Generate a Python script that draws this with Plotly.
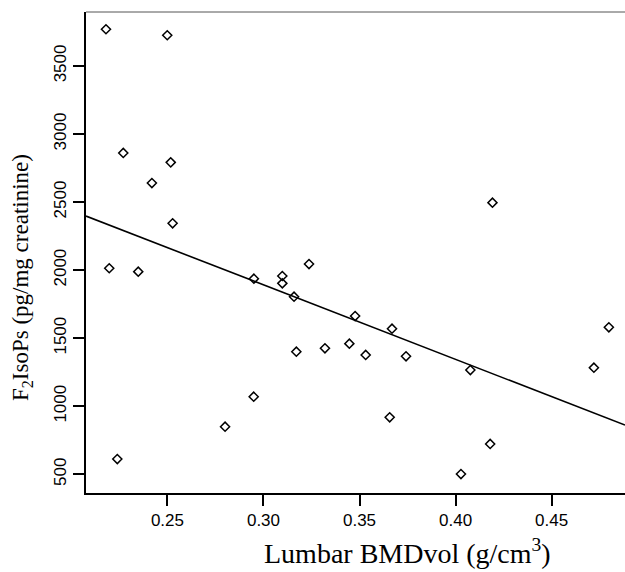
import plotly.graph_objects as go

# Data
bmd = [0.218, 0.2499, 0.227, 0.2517, 0.2419, 0.2239, 0.2197, 0.2348, 0.2527,
       0.295, 0.3098, 0.3098, 0.3237, 0.3159, 0.3477, 0.3669, 0.3171, 0.332,
       0.3447, 0.3532, 0.3742, 0.2949, 0.28, 0.3657, 0.4192, 0.4077, 0.472,
       0.4798, 0.418, 0.4028]
isops = [3770, 3726, 2861, 2792, 2640, 612, 2014, 1989, 2344,
         1937, 1957, 1903, 2045, 1805, 1663, 1570, 1401, 1426,
         1460, 1377, 1367, 1070, 850, 919, 2496, 1266, 1283,
         1580, 723, 502]

fit_intercept = 3534.0
fit_slope = -5474.0

x_range = [0.2076, 0.4882]
y_range = [362.6, 3896.8]

x_ticks = [0.25, 0.30, 0.35, 0.40, 0.45]
x_ticktext = ["0.25", "0.30", "0.35", "0.40", "0.45"]
y_ticks = [500, 1000, 1500, 2000, 2500, 3000, 3500]
y_ticktext = ["500", "1000", "1500", "2000", "2500", "3000", "3500"]

fit_x = x_range
fit_y = [fit_intercept + fit_slope * v for v in fit_x]

fig = go.Figure()
fig.add_trace(go.Scatter(x=fit_x, y=fit_y, mode="lines",
                         line=dict(color="black", width=1.6),
                         showlegend=False, hoverinfo="skip"))
fig.add_trace(go.Scatter(x=bmd, y=isops, mode="markers",
                         marker=dict(symbol="diamond-open", size=7,
                                     color="black", line=dict(width=1.5, color="black")),
                         showlegend=False))

fig.update_layout(
    width=625, height=572,
    margin=dict(l=86, r=0, t=12, b=79),
    paper_bgcolor="white", plot_bgcolor="white",
    font=dict(family="Liberation Sans, Arial, sans-serif", color="black"),
    xaxis=dict(range=x_range, tickvals=x_ticks, ticktext=x_ticktext,
               showgrid=False, zeroline=False, showline=True, linecolor="black",
               linewidth=2, ticks="outside", ticklen=11, tickwidth=1.5,
               tickcolor="black", tickfont=dict(size=17)),
    yaxis=dict(range=y_range, tickvals=y_ticks, ticktext=y_ticktext,
               showgrid=False, zeroline=False, showline=True, linecolor="black",
               linewidth=2, ticks="outside", ticklen=11, tickwidth=1.5,
               tickcolor="black", tickangle=-90, tickfont=dict(size=17)),
    shapes=[dict(type="line", xref="paper", yref="paper", x0=0, x1=1, y0=1, y1=1,
                 line=dict(color="#555555", width=1))],
    annotations=[
        dict(text="Lumbar BMDvol (g/cm<sup>3</sup>)", xref="paper", yref="paper",
             x=0.597, y=-0.121, xanchor="center", yanchor="middle", showarrow=False,
             font=dict(family="Liberation Serif, Times New Roman, serif", size=28, color="black")),
        dict(text="F<sub>2</sub>IsoPs (pg/mg creatinine)", xref="paper", yref="paper",
             x=-0.1187, y=0.447, xanchor="center", yanchor="middle", textangle=-90,
             showarrow=False,
             font=dict(family="Liberation Serif, Times New Roman, serif", size=23, color="black")),
    ],
)

fig.write_html("out.html", config={"displayModeBar": False},
               post_script="document.body.style.margin='0';document.body.style.overflow='hidden';")
